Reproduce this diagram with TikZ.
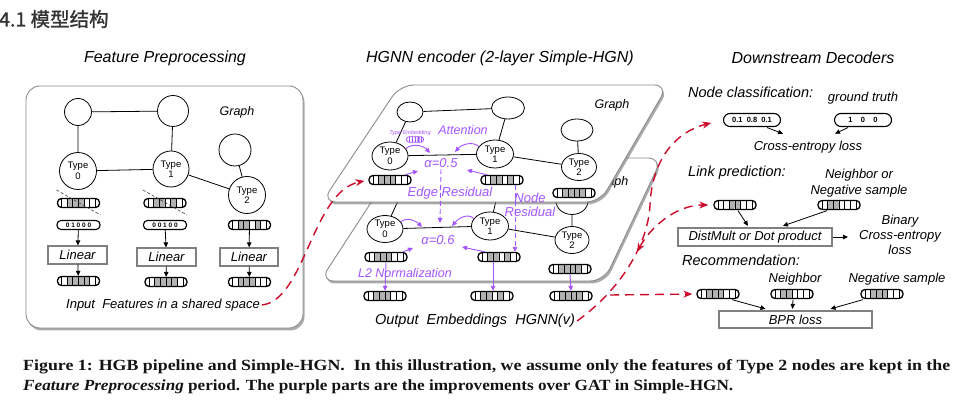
\documentclass[tikz,border=0pt]{standalone}
\usepackage{graphicx}
\usepackage{fontspec}
\setmainfont{Liberation Sans}
\newfontfamily\capfont{Liberation Serif}
\newfontfamily\cjkfont[FakeBold=1.2]{Noto Sans CJK SC}
\usetikzlibrary{shapes.geometric,arrows.meta,shadows,calc}
\definecolor{hpurple}{HTML}{A455FF}
\definecolor{hred}{HTML}{CC0A2A}
\colorlet{cellg}{black!30}
\colorlet{frameg}{black!45}
\tikzset{
  fv/.style={draw, fill=white, line width=1.3pt, rounded corners=4pt, minimum width=42pt, minimum height=9pt, inner sep=0pt,
    path picture={
      \foreach \c [count=\i] in {#1} {
        \ifnum\c=1 \fill[cellg] ([xshift={4pt+(\i-1)*5.667pt}, yshift=-6pt]path picture bounding box.west) rectangle ++(5.667pt,12pt);\fi
      }
      \foreach \i in {0,...,6} {\draw[line width=0.7pt] ([xshift={4pt+\i*5.667pt}, yshift=-6pt]path picture bounding box.west) -- ++(0pt,12pt);}
    }},
  mfv/.style={draw=hpurple, fill=white, line width=0.8pt, rounded corners=2.5pt, minimum width=17pt, minimum height=5.5pt, inner sep=0pt,
    path picture={
      \fill[hpurple!55] ([xshift=10.5pt,yshift=-4pt]path picture bounding box.west) rectangle ++(3pt,8pt);
      \foreach \i in {0,...,4} {\draw[hpurple, line width=0.5pt] ([xshift={2.5pt+\i*3pt},yshift=-4pt]path picture bounding box.west) -- ++(0pt,8pt);}
    }},
  tp/.style={draw, fill=white, line width=1.1pt, rounded corners=4pt, minimum width=43pt, minimum height=9pt, inner sep=0pt, font=\fontsize{6.5}{7}\selectfont\bfseries},
  ncp/.style={tp, rounded corners=6.5pt, minimum width=57pt, minimum height=13pt, font=\fontsize{7.5}{8}\selectfont\bfseries},
  lbl/.style={font=\fontsize{13}{15}\selectfont\itshape, inner sep=2pt},
  hlbl/.style={font=\fontsize{14.5}{16}\selectfont\itshape, inner sep=0pt},
  ttl/.style={font=\fontsize{16}{19}\selectfont\itshape},
  ptxt/.style={font=\fontsize{13}{15}\selectfont\itshape, text=hpurple, inner sep=1pt},
  circ/.style={draw, circle, line width=0.8pt, inner sep=0pt, fill=white},
  ell/.style={draw, ellipse, line width=0.8pt, inner sep=0pt, fill=white},
  typ/.style={font=\fontsize{9.5}{10.5}\selectfont, align=center},
  edge/.style={line width=0.8pt},
  gbox/.style={draw=black!50, line width=1.2pt, inner sep=0pt, fill=white},
  blk/.style={-{Triangle[length=5pt,width=4.5pt]}, line width=0.8pt},
  parr/.style={hpurple, line width=0.9pt, -{Triangle[length=5pt,width=4.5pt]}},
  pdash/.style={parr, dash pattern=on 5pt off 3pt},
  rarr/.style={hred, line width=1.4pt, dash pattern=on 9pt off 6pt, -{Stealth[length=9pt,width=7pt]}},
  panel/.style={draw=frameg, line width=0.9pt, fill=white, rounded corners=14pt,
     drop shadow={shadow xshift=1.5pt, shadow yshift=-2.5pt, fill=black!55, opacity=0.6}},
  capt/.style={anchor=west, inner sep=0pt, font=\capfont\bfseries\fontsize{15.5}{18}\selectfont, text=black!92},
}
\begin{document}
\begin{tikzpicture}[x=1pt,y=-1pt]
\useasboundingbox (0,0) rectangle (972,411);
\fill[white] (0,0) rectangle (972,411);

% header
\node[anchor=west, font=\cjkfont\fontsize{19.5}{22}\selectfont, text=black!80, inner sep=0pt] (hdr) at (-1,19) {4.1 模型结构};

% titles
\node[ttl] (t1) at (165,58) {Feature Preprocessing};
\node[ttl] (t2) at (500,58) {HGNN encoder (2-layer Simple-HGN)};
\node[ttl] (t3) at (813,58) {Downstream Decoders};

% ---------------- left panel
\draw[panel] (26,86) rectangle (303,328);
\node[lbl, font=\fontsize{12.5}{15}\selectfont\itshape] (lg) at (237,112) {Graph};
\node[circ, minimum size=27] (la) at (78,112) {};
\node[circ, minimum size=31] (lb) at (173,111) {};
\node[circ, minimum size=32] (lc) at (235,150) {};
\node[circ, typ, minimum size=37] (l0) at (78,171) {Type\\0};
\node[circ, typ, minimum size=36] (l1) at (171,169) {Type\\1};
\node[circ, typ, minimum size=37] (l2) at (247,195) {Type\\2};
\draw[edge] (la)--(lb) (la)--(l0) (lb)--(l1) (l0)--(l1) (l1)--(l2) (lc)--(l2);

\node[fv={0,1,1,1,0,0}] (p0) at (78.5,203) {};
\node[fv={0,1,1,0,1,0}] (p1) at (165,203) {};
\draw[black!75, dash pattern=on 3pt off 2pt, line width=0.6pt] ($(p0)+(-22,-13)$) -- ($(p0)+(22,12)$);
\draw[black!75, dash pattern=on 3pt off 2pt, line width=0.6pt] ($(p1)+(-22,-13)$) -- ($(p1)+(22,12)$);
\node[tp] (h0) at (78.5,225) {0 1 0 0 0};
\node[tp] (h1) at (165,225) {0 0 1 0 0};
\node[fv={0,1,1,0,1,0}] (h2) at (249.5,225) {};

\node[gbox, lbl, minimum width=59, minimum height=18] (lin0) at (77.5,255) {Linear};
\node[gbox, lbl, minimum width=59, minimum height=18] (lin1) at (166.5,257) {Linear};
\node[gbox, lbl, minimum width=58, minimum height=18] (lin2) at (249,257) {Linear};
\node[fv={0,1,1,1,1,0}] (q0) at (78.5,281) {};
\node[fv={0,1,1,1,1,0}] (q1) at (166,282) {};
\node[fv={0,1,1,1,0,0}] (q2) at (249.5,282) {};
\foreach \k in {0,1,2} {
  \draw[blk] (h\k) -- (lin\k);
  \draw[blk] (lin\k) -- (q\k);
}
\node[lbl] (inp) at (163,305) {Input\ \ Features in a shared space};

% ---------------- middle: layer 2 (back)
\draw[panel] (400,158) -- (662,158) -- (604,281) -- (320,281) -- cycle;
\node[lbl, font=\fontsize{12.5}{15}\selectfont\itshape] (g2) at (611,182) {Graph};
\node[ell, minimum width=26, minimum height=20] (a2) at (405,186) {};
\node[ell, minimum width=33, minimum height=22] (b2) at (500,184) {};
\node[ell, minimum width=32, minimum height=27] (c2) at (572,201) {};
\node[ell, typ, minimum width=36, minimum height=27] (t20) at (385,229) {Type\\0};
\node[ell, typ, minimum width=37, minimum height=28] (t21) at (490,226) {Type\\1};
\node[ell, typ, minimum width=34, minimum height=27] (t22) at (572,240) {Type\\2};
\draw[edge] (a2)--(b2) (a2)--(t20) (b2)--(t21) (t20)--(t21) (t21)--(t22) (c2)--(t22);
\node[fv={0,1,1,1,0,0}] (v20) at (386,257) {};
\node[fv={0,1,1,0,1,0}] (v21) at (499,257) {};
\node[fv={0,1,1,1,1,0}] (v22) at (570,269) {};

% ---------------- middle: layer 1 (front)
\draw[panel] (400,85) -- (668,85) -- (600,202) -- (322,202) -- cycle;
\node[lbl, font=\fontsize{12.5}{15}\selectfont\itshape] (g1) at (612,105) {Graph};
\node[ell, minimum width=26, minimum height=20] (a1) at (410,112) {};
\node[ell, minimum width=33, minimum height=22] (b1) at (508,108) {};
\node[ell, minimum width=32, minimum height=22] (c1) at (577,130) {};
\node[ell, typ, minimum width=36, minimum height=28] (t10) at (390,156) {Type\\0};
\node[ell, typ, minimum width=37, minimum height=28] (t11) at (495,154) {Type\\1};
\node[ell, typ, minimum width=35, minimum height=27] (t12) at (579,167) {Type\\2};
\draw[edge] (a1)--(b1) (a1)--(t10) (b1)--(t11) (t10)--(t11) (t11)--(t12) (c1)--(t12);
\node[fv={0,1,1,1,0,0}] (v10) at (390,180) {};
\node[fv={0,1,1,0,1,0}] (v11) at (502,180) {};
\node[fv={0,1,1,1,1,0}] (v12) at (574,193) {};

% output vectors
\node[fv={0,1,1,1,0,0}] (o0) at (385,296) {};
\node[fv={0,1,1,0,1,0}] (o1) at (492,296) {};
\node[fv={0,1,1,1,1,0}] (o2) at (571,296) {};
\node[lbl, font=\fontsize{14.5}{17}\selectfont\itshape] (hg) at (475,321) {Output\ \ Embeddings\ \ HGNN(v)};

% ---------------- purple parts
\node[font=\fontsize{5.5}{6}\selectfont\itshape, text=hpurple, inner sep=0pt] (te) at (410,133) {Type Embedding};
\node[mfv] (tev) at (415,139.5) {};
\node[ptxt, font=\fontsize{12.5}{15}\selectfont\itshape] (att) at (463,130) {Attention};
\node[ptxt] (al1) at (441,163) {α=0.5};
\node[ptxt] (al2) at (438,240) {α=0.6};
\coordinate (p1a) at (430,153);
\coordinate (p1b) at (455,152);
\coordinate (q1a) at (418,171);
\coordinate (q1b) at (467,170);
\coordinate (p2a) at (422,227);
\coordinate (p2b) at (452,226);
\coordinate (q2a) at (413,248);
\coordinate (q2b) at (462,247);
\coordinate (er) at (440,223);
\draw[parr] (t10.25) .. controls ($(t10.25)+(7,-6)$) and ($(p1a)+(-6,-7)$) .. (p1a);
\draw[parr] (t11.155) .. controls ($(t11.155)+(-7,-6)$) and ($(p1b)+(6,-7)$) .. (p1b);
\draw[parr] (t20.25) .. controls ($(t20.25)+(7,-5)$) and ($(p2a)+(-6,-6)$) .. (p2a);
\draw[parr] (t21.155) .. controls ($(t21.155)+(-7,-6)$) and ($(p2b)+(6,-7)$) .. (p2b);
\draw[parr] ($(v10.north)+(15,0)$) -- (q1a);
\draw[parr] ($(v11.north)+(-15,0)$) -- (q1b);
\draw[parr] ($(v20.north)+(17,0)$) -- (q2a);
\draw[parr] ($(v21.north)+(-14,0)$) -- (q2b);
\draw[pdash] (al1.south) -- (er);
\draw[pdash] ($(v11.south)+(13,0)$) -- ($(v21.north)+(16,0)$);
\node[ptxt] (edr) at (450,193) {Edge Residual};
\node[ptxt, align=center, font=\fontsize{13}{14}\selectfont\itshape] (ndr) at (530,205) {Node\\Residual};
\draw[parr] (v20.south) -- (o0.north);
\draw[parr] ($(v21.south)+(-6,0)$) -- ($(o1.north)+(1,0)$);
\draw[parr] (v22.south) -- (o2.north);
\node[ptxt, font=\fontsize{12.5}{15}\selectfont\itshape] (l2n) at (405,273) {L2 Normalization};

% ---------------- right panel
\node[hlbl, anchor=west] (ncl) at (688,92) {Node classification:};
\node[lbl] (gt) at (863,98) {ground truth};
\node[ncp] (nc1) at (752,120) {0.1\ \ 0.8\ \ 0.1};
\node[ncp] (nc2) at (863,120) {1\ \ \ \ 0\ \ \ \ 0};
\node[lbl] (cel) at (808,147) {Cross-entropy loss};
\draw[blk] ($(nc1.south)+(15,0.5)$) -- ($(cel.north)+(-25,-5)$);
\draw[blk] ($(nc2.south)+(-15,0.5)$) -- ($(cel.north)+(27,-5)$);

\node[hlbl, anchor=west] (lpl) at (688,173) {Link prediction:};
\node[lbl, align=center, font=\fontsize{13}{16}\selectfont\itshape] (nbn) at (859,183) {Neighbor or\\Negative sample};
\node[fv={0,0,1,1,0,0}] (lv1) at (735,205) {};
\node[fv={0,1,1,0,0,0}] (lv2) at (839,205) {};
\node[gbox, lbl, minimum width=154, minimum height=18] (dm) at (755,237) {DistMult or Dot product};
\draw[blk] ($(lv1.south)+(3,0.5)$) -- ($(dm.north)+(-7,-1.5)$);
\draw[blk] ($(lv2.south)+(-12,0.5)$) -- ($(dm.north)+(28,-1.5)$);
\node[lbl, align=center, font=\fontsize{13}{15}\selectfont\itshape] (bce) at (900,235) {Binary\\Cross-entropy\\loss};
\coordinate (bcein) at (848,237);
\draw[blk] (dm.east) -- (bcein);

\node[hlbl, anchor=west] (rcl) at (682,260) {Recommendation:};
\node[lbl] (nbr) at (795,279) {Neighbor};
\node[lbl] (ngs) at (897,279) {Negative sample};
\node[fv={0,1,1,1,0,0}] (r1) at (718,294) {};
\node[fv={0,1,1,0,0,0}] (r2) at (792,294) {};
\node[fv={0,1,1,1,0,0}] (r3) at (882,294) {};
\node[gbox, lbl, minimum width=153, minimum height=17] (bpr) at (795.5,319.5) {BPR loss};
\draw[blk] ($(r1.south)+(14,0.5)$) -- ($(bpr.north)+(-30,-1.5)$);
\draw[blk] ($(r2.south)+(1,0.5)$) -- ($(bpr.north)+(-3,-1.5)$);
\draw[blk] ($(r3.south)+(-19,0.5)$) -- ($(bpr.north)+(35,-1.5)$);

% ---------------- red dashed connectors
\coordinate (br) at (610,295);
\coordinate (lk) at (637,252);
\draw[rarr, shorten >=4pt] (inp.east) .. controls (305,300) and (312,192) .. (v10.west);
\draw[rarr, shorten >=12pt] (hg.east) .. controls (620,290) and (648,245) .. (650,205) .. controls (652,160) and (675,132) .. (nc1.west);
\draw[rarr, shorten >=4pt] (br) -- (r1.west);
\draw[rarr, {Stealth[length=9pt,width=7pt]}-{Stealth[length=9pt,width=7pt]}, shorten >=5pt] (lk) .. controls (650,228) and (675,205) .. (lv1.west);

% ---------------- caption
\node[capt] (cap1) at (23,367) {\resizebox{927pt}{\height}{Figure 1: HGB pipeline and Simple-HGN.\ \ In this illustration, we assume only the features of Type 2 nodes are kept in the}};
\node[capt] (cap2) at (23,387) {\resizebox{710pt}{\height}{\textit{Feature Preprocessing} period. The purple parts are the improvements over GAT in Simple-HGN.}};
\end{tikzpicture}
\end{document}
